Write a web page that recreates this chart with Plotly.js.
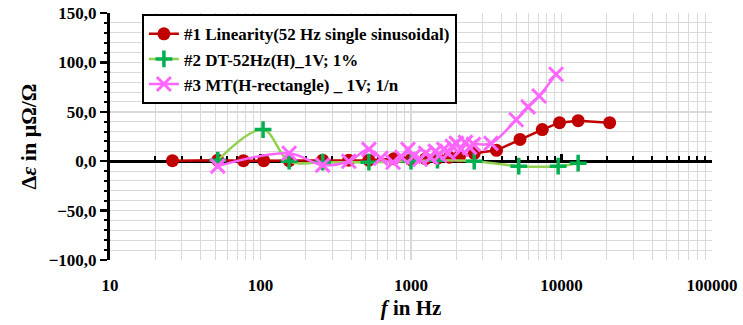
<!DOCTYPE html>
<html><head><meta charset="utf-8">
<script src="https://cdn.plot.ly/plotly-3.0.1.min.js"></script>
<style>html,body{margin:0;padding:0;background:#fff}</style>
</head><body>
<div id="chart" style="width:743px;height:325px"></div>
<script>
// Series #1 Linearity (52 Hz single sinusoidal)
const s1Freq = [26, 52, 77, 105, 155, 259, 386, 525, 768, 1000, 1250, 1500, 1800, 2100, 2630, 3700, 5300, 7450, 9700, 12900, 20900];
const s1Val  = [0.5, 1, 0.5, 0.5, 0.5, 1, 1, 1, 2.5, 1.5, 2.5, 3, 4, 5, 8, 11, 22, 32, 39, 41, 39];
// Series #2 DT-52Hz(H)_1V; 1%
const s2Freq = [52, 104, 155, 259, 525, 1000, 1500, 2630, 5200, 9500, 12900];
const s2Val  = [1, 32, 0, -1, -1, 0, 1, 0, -5, -5, -2];
// Series #3 MT(H-rectangle) _ 1V; 1/n
const s3Freq = [52, 155, 259, 386, 525, 630, 760, 870, 955, 1040, 1150, 1250, 1350, 1450, 1550, 1650, 1770, 1880, 2000, 2150, 2300, 2450, 2600, 3400, 5000, 6000, 7100, 9200];
const s3Val  = [-5, 8, -4, 0, 12, 3, -1, 4, 12, 5, 2, 8, 4, 10, 6, 12, 8, 15, 18, 12, 19, 14, 17, 18, 42, 55, 66, 88];
const seriesNames = ['#1 Linearity(52 Hz single sinusoidal)', '#2 DT-52Hz(H)_1V; 1%', '#3 MT(H-rectangle) _ 1V; 1/n'];
const xTickVals = [10, 100, 1000, 10000, 100000];
const yMin = -100, yMax = 150;

const serif = '"Times New Roman", "Liberation Serif", "DejaVu Serif", serif';
const traces = [
  {x: s1Freq, y: s1Val, name: seriesNames[0], mode: 'lines+markers',
   line: {color: '#C00000', width: 2.5}, marker: {symbol: 'circle', size: 13, color: '#C00000'}},
  {x: s2Freq, y: s2Val, name: seriesNames[1], mode: 'lines+markers',
   line: {color: '#92D050', width: 2.5, shape: 'spline', smoothing: 1},
   marker: {symbol: 'cross-thin', size: 12, color: '#00B050', line: {color: '#00B050', width: 3.5}}},
  {x: s3Freq, y: s3Val, name: seriesNames[2], mode: 'lines+markers',
   line: {color: '#FF66FF', width: 2.5, shape: 'spline', smoothing: 1},
   marker: {symbol: 'x-thin', size: 14, color: '#FF66FF', line: {color: '#FF66FF', width: 3}}},
  {x: [xTickVals[0], xTickVals[xTickVals.length-1]], y: [null, null], xaxis: 'x2', yaxis: 'y',
   showlegend: false, mode: 'lines', hoverinfo: 'skip'}
];

const layout = {
  width: 743, height: 325,
  margin: {l: 110, r: 31, t: 13, b: 65},
  paper_bgcolor: '#fff', plot_bgcolor: '#fff',
  separators: ',.',
  showlegend: true,
  font: {family: serif, color: '#000', size: 15},
  xaxis: {
    type: 'log', range: [1, 5], tickvals: xTickVals, tickformat: 'd',
    showgrid: true, gridcolor: '#D9D9D9', gridwidth: 1.5,
    minor: {dtick: 'D1', showgrid: true, gridcolor: '#D9D9D9', gridwidth: 1, ticks: ''},
    ticks: '', showline: false, zeroline: false,
    ticklabelstandoff: 13,
    tickfont: {family: serif, size: 17, weight: 700},
    title: {text: '<b><i>f</i> in Hz</b>', font: {family: serif, size: 21}, standoff: 6}
  },
  xaxis2: {
    type: 'log', range: [1, 5], overlaying: 'x', anchor: 'free',
    position: (0 - yMin) / (yMax - yMin), side: 'bottom', matches: 'x',
    showline: true, linecolor: '#000', linewidth: 3, layer: 'below traces',
    showgrid: false, zeroline: false, showticklabels: false,
    tickvals: xTickVals, ticks: 'inside', ticklen: 6, tickwidth: 2.5, tickcolor: '#000',
    minor: {dtick: 'D1', ticks: 'inside', ticklen: 4, tickwidth: 2, tickcolor: '#000', showgrid: false}
  },
  yaxis: {
    range: [yMin, yMax], dtick: 50, tickformat: '.1f',
    showgrid: true, gridcolor: '#D9D9D9', gridwidth: 1.5, zeroline: false,
    minor: {dtick: 10, showgrid: true, gridcolor: '#D9D9D9', gridwidth: 1, ticks: 'outside', ticklen: 3, tickwidth: 2, tickcolor: '#000'},
    showline: true, linecolor: '#000', linewidth: 3,
    ticks: 'outside', ticklen: 7, tickwidth: 2.5, tickcolor: '#000',
    tickfont: {family: serif, size: 17, weight: 700},
    title: {text: '<b>Δ<i>ε</i> in μΩ/Ω</b>', font: {family: serif, size: 22}, standoff: 6}
  },
  legend: {
    x: 0.053, y: 0.995, xanchor: 'left', yanchor: 'top',
    bgcolor: '#fff', bordercolor: '#000', borderwidth: 2,
    font: {family: serif, size: 17, weight: 700}
  }
};
Plotly.newPlot('chart', traces, layout, {displayModeBar: false, staticPlot: true});
</script>
</body></html>
